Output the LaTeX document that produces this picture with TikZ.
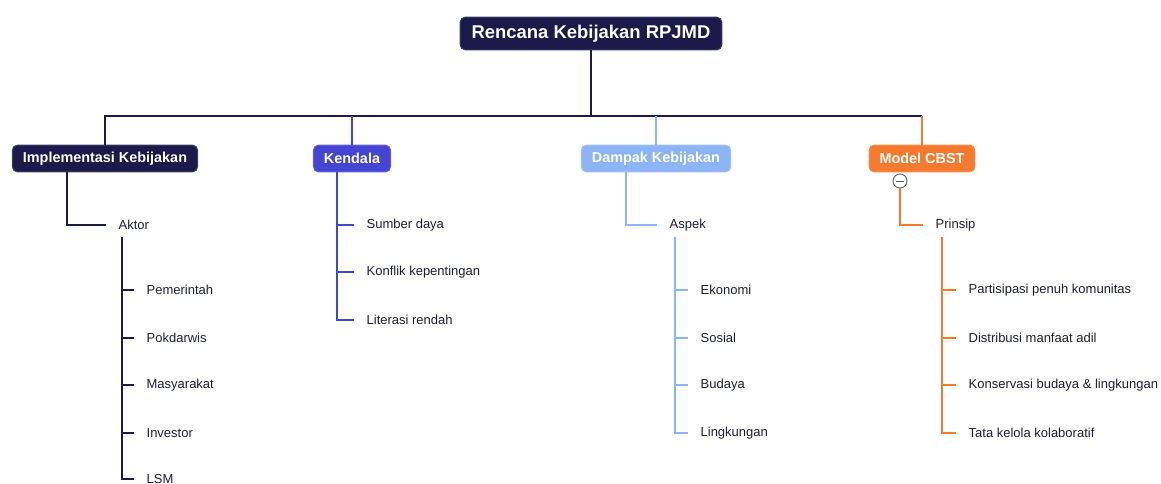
\documentclass[tikz,border=0pt]{standalone}
\usepackage{fontspec}
\setmainfont{Liberation Sans}
\usetikzlibrary{positioning,calc}
\definecolor{navy}{HTML}{1B1A4B}
\definecolor{royal}{HTML}{4545D4}
\definecolor{sky}{HTML}{8DB4F6}
\definecolor{tang}{HTML}{F57A2E}
\definecolor{ink}{HTML}{1E1E36}
\tikzset{
  topic/.style={rounded corners=3pt, text=white, font=\bfseries\fontsize{8.2}{10}\selectfont,
    inner xsep=6pt, inner ysep=0pt, minimum height=15.3pt, draw=#1!85!white, fill=#1, line width=0.6pt},
  leaf/.style={anchor=west, text=ink, font=\fontsize{7.4}{9}\selectfont, inner xsep=7pt, inner ysep=2pt},
  link/.style={draw=#1, line width=1.1pt},
}

\begin{document}
\begin{tikzpicture}[x=0.02cm, y=-0.02cm]
    \useasboundingbox (0,0) rectangle (1161,484);

    % Root and main topics
    \node[topic=navy, font=\bfseries\fontsize{10.5}{12}\selectfont, minimum height=18.7pt, inner xsep=6.5pt] (root) at (591,33.5) {Rencana Kebijakan RPJMD};
    \node[topic=navy] (impl) at (105,158.5) {Implementasi Kebijakan};
    \node[topic=royal] (kendala) at (352,158.5) {Kendala};
    \node[topic=sky] (dampak) at (656,158.5) {Dampak Kebijakan};
    \node[topic=tang] (model) at (922,158.5) {Model CBST};
    \coordinate (bar) at (591,116);

    \draw[link=navy] (root.south) -- (bar);
    \draw[link=navy] (impl.north) |- (model.north |- bar);
    \draw[link=royal] (kendala.north) -- (kendala.north |- bar);
    \draw[link=sky] (dampak.north) -- (dampak.north |- bar);
    \draw[link=tang] (model.north) -- (model.north |- bar);

    % Implementasi Kebijakan
    \node[leaf] (aktor) at (106,225) {Aktor};
    \draw[link=navy] (impl.south) ++(-38,0) |- (aktor.west);
    \node[leaf] (pem) at (134,290) {Pemerintah};
    \node[leaf] (pok) at (134,338) {Pokdarwis};
    \node[leaf] (mas) at (134,385) {Masyarakat};
    \node[leaf] (inv) at (134,433) {Investor};
    \node[leaf] (lsm) at (134,479) {LSM};
    \coordinate (aktorspine) at (122,237);
    \draw[link=navy] (aktorspine) |- (lsm.west);
    \foreach \n in {pem,pok,mas,inv}
        \draw[link=navy] (\n.west -| aktorspine) -- (\n.west);

    % Kendala
    \node[leaf] (sumber) at (354,225) {Sumber daya};
    \node[leaf] (konflik) at (354,272) {Konflik kepentingan};
    \node[leaf] (literasi) at (354,320) {Literasi rendah};
    \coordinate (kspine) at (337,172);
    \draw[link=royal] (kendala.south -| kspine) |- (literasi.west);
    \foreach \n in {sumber,konflik}
        \draw[link=royal] (\n.west -| kspine) -- (\n.west);

    % Dampak Kebijakan
    \node[leaf] (aspek) at (657,225) {Aspek};
    \draw[link=sky] (dampak.south) ++(-30,0) |- (aspek.west);
    \node[leaf] (eko) at (688,290) {Ekonomi};
    \node[leaf] (sos) at (688,338) {Sosial};
    \node[leaf] (bud) at (688,385) {Budaya};
    \node[leaf] (ling) at (688,433) {Lingkungan};
    \coordinate (aspekspine) at (675,237);
    \draw[link=sky] (aspekspine) |- (ling.west);
    \foreach \n in {eko,sos,bud}
        \draw[link=sky] (\n.west -| aspekspine) -- (\n.west);

    % Model CBST
    \node[circle, draw=gray!70!black, fill=white, line width=0.5pt, minimum size=8pt, inner sep=0pt] (fold) at (900,181) {};
    \draw[gray!70!black, line width=0.5pt] ([xshift=-2.2pt]fold.center) -- ([xshift=2.2pt]fold.center);
    \node[leaf] (prinsip) at (923,225) {Prinsip};
    \draw[link=tang] (fold.south) |- (prinsip.west);
    \node[leaf] (part) at (956,290) {Partisipasi penuh komunitas};
    \node[leaf] (dist) at (956,338) {Distribusi manfaat adil};
    \node[leaf] (kons) at (956,385) {Konservasi budaya \& lingkungan};
    \node[leaf] (tata) at (956,433) {Tata kelola kolaboratif};
    \coordinate (prinspine) at (942,237);
    \draw[link=tang] (prinspine) |- (tata.west);
    \foreach \n in {part,dist,kons}
        \draw[link=tang] (\n.west -| prinspine) -- (\n.west);
\end{tikzpicture}
\end{document}
